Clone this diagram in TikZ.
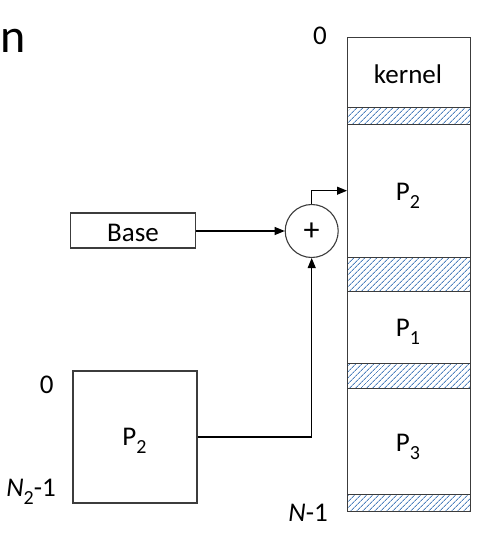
\documentclass[tikz,border=0pt]{standalone}
\usepackage{fontspec}
\setmainfont{Carlito}
\usetikzlibrary{arrows.meta,patterns.meta}

% subscript set lower and smaller, as on the slide
\newcommand{\lowsub}[1]{\raisebox{-8pt}{\fontsize{20}{20}\selectfont #1}}

\definecolor{boxline}{RGB}{60,60,60}
\definecolor{hatchblue}{RGB}{79,129,189}

\tikzset{
  lbl/.style={font=\fontsize{27}{31}\selectfont, inner sep=0pt},
  region/.style={draw=boxline, line width=1.1pt, minimum width=123pt, inner sep=0pt, anchor=north west},
  hole/.style={region, pattern={Lines[angle=45,distance=4pt,line width=1pt]}, pattern color=hatchblue},
  plainbox/.style={draw=boxline, line width=1.1pt, inner sep=0pt},
  adder/.style={circle, draw=boxline, line width=1.1pt, minimum size=53pt, inner sep=0pt},
  arr/.style={line width=1.1pt, -{Triangle[length=10pt,width=8pt]}},
  wire/.style={line width=1.1pt}
}

\begin{document}
\begin{tikzpicture}[x=1pt,y=-1pt]
  \useasboundingbox (0,0) rectangle (484,534);

  % tail of the slide title
  \node[font=\fontsize{48}{56}\selectfont, inner sep=0pt, anchor=base west] (title) at (0.5,53) {n};

  % physical memory column
  \node[region, minimum height=70.3pt] (kernel) at (347,36.7) {};
  \node[hole,   minimum height=17pt]   (gapA)   at (347,107) {};
  \node[region, minimum height=133pt]  (memPtwo) at (347,124) {};
  \node[hole,   minimum height=34pt]   (gapB)   at (347,257) {};
  \node[region, minimum height=72pt]   (memPone) at (347,291) {};
  \node[hole,   minimum height=25pt]   (gapC)   at (347,363) {};
  \node[region, minimum height=106pt]  (memPthree) at (347,388) {};
  \node[hole,   minimum height=17pt]   (gapD)   at (347,494) {};

  \node[lbl, anchor=base] (kernelLbl) at (408,83.3) {kernel};
  \node[lbl, anchor=base] (memPtwoLbl) at (408,200.7) {P\lowsub{2}};
  \node[lbl, anchor=base] (memPoneLbl) at (408,336.7) {P\lowsub{1}};
  \node[lbl, anchor=base] (memPthreeLbl) at (408,451.7) {P\lowsub{3}};

  \node[lbl, anchor=base] (memTop) at (320,45) {0};
  \node[lbl, anchor=base east] (memBottom) at (328,521.7) {\textit{N}-1};

  % base register and adder
  \node[plainbox, minimum width=125pt, minimum height=35pt] (base) at (133.3,230.5) {};
  \node[lbl, anchor=base] (baseLbl) at (133,241.7) {Base};
  \node[adder] (plus) at (311.7,231) {};
  \node[font=\fontsize{32}{32}\selectfont, inner sep=0pt] (plusLbl) at (311.7,232) {+};

  % logical address space of the process
  \node[plainbox, minimum width=124pt, minimum height=132pt] (proc) at (135,437) {};
  \node[lbl, anchor=base] (procLbl) at (134.5,445.7) {P\lowsub{2}};
  \node[lbl, anchor=base] (procTop) at (46.7,393.3) {0};
  \node[lbl, anchor=base east] (procBottom) at (56,496.7) {\textit{N}\lowsub{2}-1};

  % connectors
  \coordinate (entry) at (347,190.7);
  \draw[arr] (base.east |- plus.west) -- (plus.west);
  \draw[arr] (plus.north) |- (entry);
  \draw[arr] (proc.east) -| (plus.south);
\end{tikzpicture}
\end{document}
